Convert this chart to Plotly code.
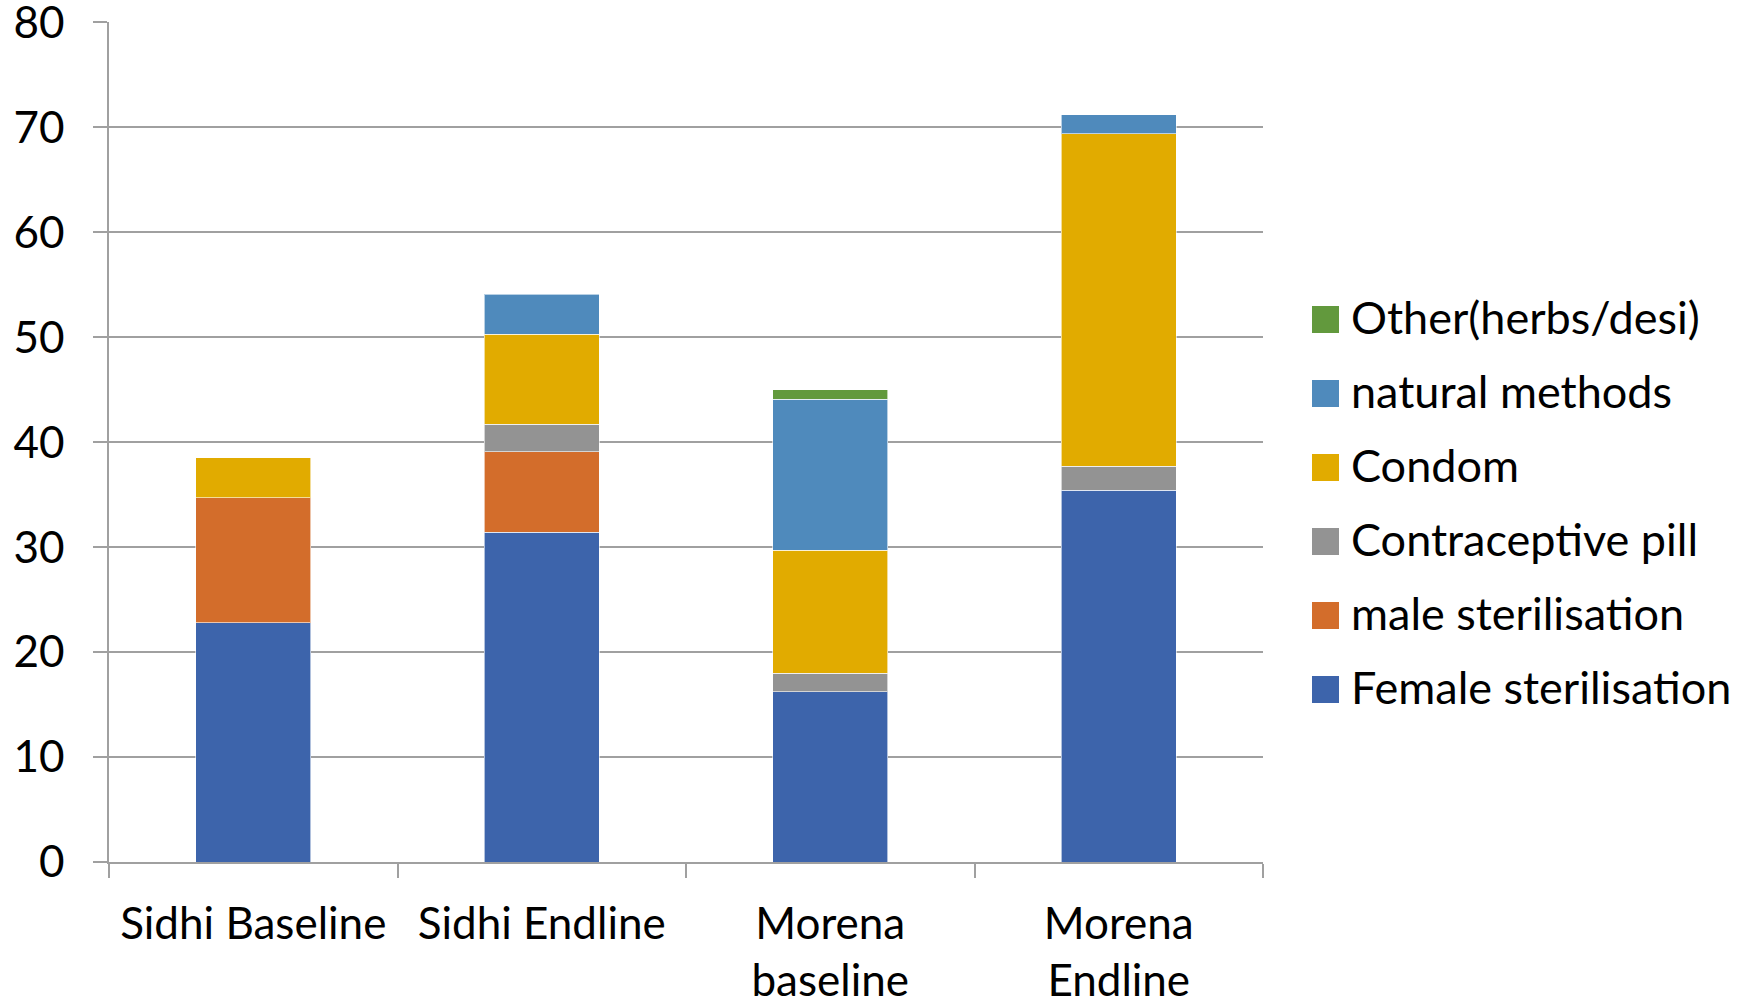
import plotly.graph_objects as go

# Contraceptive method use (%) by district and survey round
categories = ["Sidhi Baseline", "Sidhi Endline", "Morena<br>baseline", "Morena<br>Endline"]

female_sterilisation = [22.8, 31.4, 16.2, 35.4]
male_sterilisation = [11.9, 7.7, None, None]
contraceptive_pill = [None, 2.6, 1.8, 2.3]
condom = [3.8, 8.6, 11.7, 31.7]
natural_methods = [None, 3.8, 14.4, 1.8]
other_herbs_desi = [None, None, 0.9, None]

series_names = [
    "Female sterilisation",
    "male sterilisation",
    "Contraceptive pill",
    "Condom",
    "natural methods",
    "Other(herbs/desi)",
]
series_values = [
    female_sterilisation,
    male_sterilisation,
    contraceptive_pill,
    condom,
    natural_methods,
    other_herbs_desi,
]
series_colors = ["#3D64AB", "#D36D2B", "#939393", "#E1AB00", "#4F8ABC", "#62993D"]

y_ticks = [0, 10, 20, 30, 40, 50, 60, 70, 80]

FONT = "Lato, 'Open Sans', sans-serif"
W, H = 1739, 1002
ML, MR, MT, MB = 109, 476, 22, 140
PW, PH = W - ML - MR, H - MT - MB

fig = go.Figure()
for name, vals, col in zip(series_names, series_values, series_colors):
    fig.add_trace(go.Bar(
        x=categories, y=vals, name=name,
        marker=dict(color=col, line=dict(color="rgba(255,255,255,0.6)", width=1)),
        showlegend=False,
    ))

# Legend drawn as square swatches with labels, top entry = last series
def px_x(p):
    return (p - ML) / PW

def px_y(p):
    return (MT + PH - p) / PH

shapes = []
annotations = []
first_center, step, sw = 319.5, 74.0, 27
for i, (name, col) in enumerate(zip(reversed(series_names), reversed(series_colors))):
    cy = first_center + i * step
    shapes.append(dict(
        type="rect", xref="paper", yref="paper",
        x0=px_x(1312), x1=px_x(1312 + sw),
        y0=px_y(cy + sw / 2), y1=px_y(cy - sw / 2),
        fillcolor=col, line=dict(width=0),
    ))
    annotations.append(dict(
        xref="paper", yref="paper", x=px_x(1349), y=px_y(cy - 3),
        xanchor="left", yanchor="middle", showarrow=False,
        text=name, font=dict(family=FONT, size=45, color="black"),
    ))

fig.update_layout(
    barmode="stack",
    bargap=0.6,
    width=W, height=H,
    margin=dict(l=ML, r=MR, t=MT, b=MB, pad=0, autoexpand=False),
    plot_bgcolor="white", paper_bgcolor="white",
    font=dict(family=FONT, size=44, color="black"),
    shapes=shapes,
    annotations=annotations,
    xaxis=dict(
        range=[-0.5, 3.5],
        automargin=False,
        showline=True, linecolor="#a0a0a0", linewidth=1.5,
        ticks="outside", tickson="boundaries", ticklen=14,
        tickcolor="#a0a0a0", tickwidth=1.5,
        showgrid=False,
        tickfont=dict(family=FONT, size=44, color="black"),
        ticklabelstandoff=22,
    ),
    yaxis=dict(
        range=[0, 80.03], tickvals=y_ticks,
        automargin=False,
        showline=True, linecolor="#a0a0a0", linewidth=1.5,
        ticks="outside", ticklen=14, tickcolor="#a0a0a0", tickwidth=1.5,
        showgrid=True, gridcolor="#a0a0a0", gridwidth=1.5,
        zeroline=False,
        tickfont=dict(family=FONT, size=44, color="black"),
        ticklabelstandoff=20,
        ticklabeloverflow="allow",
    ),
)

fig.write_html("out.html")
